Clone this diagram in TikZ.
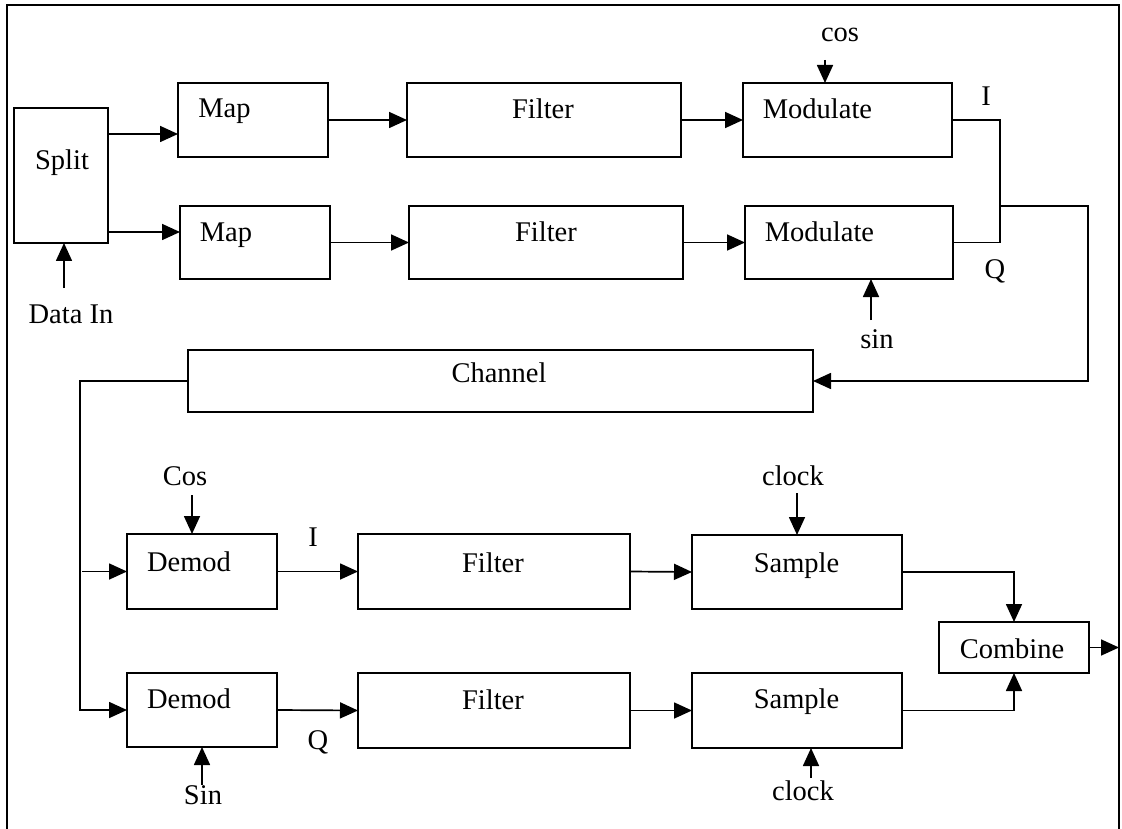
\documentclass[tikz,border=0pt]{standalone}
\usepackage{fontspec}
\setmainfont{Liberation Serif}
\usetikzlibrary{arrows.meta,calc}
\tikzset{
  box/.style={draw,line width=1.7pt,inner sep=0pt,outer sep=0pt,fill=none},
  txt/.style={anchor=base,inner sep=0pt,font=\fontsize{28.5}{33}\selectfont},
  wire/.style={line width=1.7pt},
  arr/.style={line width=1.7pt,-{Triangle[length=18pt,width=16pt]}},
}
\begin{document}
\begin{tikzpicture}[x=1pt,y=-1pt]
\useasboundingbox (0,0) rectangle (1122,829);
% frame
\draw[wire] (7,829) -- (7,5) -- (1119,5) -- (1119,829);
% boxes
\node[box,minimum width=94pt,minimum height=135pt] (split) at (61,175.5) {};
\node[box,minimum width=150pt,minimum height=74pt] (map1) at (253,120) {};
\node[box,minimum width=150pt,minimum height=73pt] (map2) at (255,242.5) {};
\node[box,minimum width=274pt,minimum height=74pt] (filt1) at (544,120) {};
\node[box,minimum width=274pt,minimum height=73pt] (filt2) at (546,242.5) {};
\node[box,minimum width=209pt,minimum height=74pt] (mod1) at (847.5,120) {};
\node[box,minimum width=208pt,minimum height=73pt] (mod2) at (849,242.5) {};
\node[box,minimum width=625pt,minimum height=62pt] (chan) at (500.5,381) {};
\node[box,minimum width=150pt,minimum height=75pt] (dem1) at (202,571.5) {};
\node[box,minimum width=150pt,minimum height=74pt] (dem2) at (202,710) {};
\node[box,minimum width=272pt,minimum height=75pt] (filt3) at (494,571.5) {};
\node[box,minimum width=272pt,minimum height=75pt] (filt4) at (494,710.5) {};
\node[box,minimum width=210pt,minimum height=74pt] (samp1) at (797,572) {};
\node[box,minimum width=210pt,minimum height=75pt] (samp2) at (797,710.5) {};
\node[box,minimum width=150pt,minimum height=51pt] (comb) at (1014,647.5) {};
% texts
\node[txt] (tsplit) at (62,170) {Split};
\node[txt] (tmap1) at (224.5,118) {Map};
\node[txt] (tmap2) at (226,242) {Map};
\node[txt] (tdin) at (71,323) {Data In};
\node[txt] (tf1) at (543,119) {Filter};
\node[txt] (tf2) at (546,242) {Filter};
\node[txt] (tm1) at (817.5,119) {Modulate};
\node[txt] (tm2) at (819.5,242) {Modulate};
\node[txt] (tcos) at (840,42) {cos};
\node[txt] (tI1) at (986,106) {I};
\node[txt] (tQ1) at (995,278) {Q};
\node[txt] (tsin) at (877,348) {sin};
\node[txt] (tchan) at (499,382) {Channel};
\node[txt] (tCos) at (185,485) {Cos};
\node[txt] (td1) at (189,571) {Demod};
\node[txt] (td2) at (189,708) {Demod};
\node[txt] (tI2) at (313,546) {I};
\node[txt] (tQ2) at (318,749) {Q};
\node[txt] (tSin) at (203,804) {Sin};
\node[txt] (tf3) at (493,572) {Filter};
\node[txt] (tf4) at (493,709) {Filter};
\node[txt] (ts1) at (796.5,572) {Sample};
\node[txt] (ts2) at (796.5,708) {Sample};
\node[txt] (tck1) at (793,485) {clock};
\node[txt] (tck2) at (803,800) {clock};
\node[txt] (tcomb) at (1012,658) {Combine};
% free ends
\coordinate (din) at (64,288);
\coordinate (cosin) at (825,60);
\coordinate (sinin) at (871,320);
\coordinate (iq) at (1000,206);
\coordinate (rt) at (1088,206);
\coordinate (cl) at (80,381);
\coordinate (Cosin) at (192,495);
\coordinate (Sinin) at (202,785);
\coordinate (ck1) at (797,493);
\coordinate (ck2) at (811,778);
\coordinate (out) at (1119,647.5);
% connectors
\draw[arr] (split.east |- 0,134) -- (map1.west |- 0,134);
\draw[arr] (split.east |- 0,232) -- (map2.west |- 0,232);
\draw[arr] (din) -- (din |- split.south);
\draw[arr] (map1.east) -- (filt1.west);
\draw[arr] (map2.east) -- (filt2.west);
\draw[arr] (filt1.east) -- (mod1.west);
\draw[arr] (filt2.east) -- (mod2.west);
\draw[arr] (cosin) -- (cosin |- mod1.north);
\draw[arr] (sinin) -- (sinin |- mod2.south);
\draw[wire] (mod1.east) -| (iq |- mod2.east) -- (mod2.east);
\draw[arr] (iq) -- (rt) |- (chan.east);
\draw[arr] (chan.west) -| (cl |- dem2.west) -- (dem2.west);
\draw[arr] ($(cl |- dem1.west)+(2,0)$) -- (dem1.west);
\draw[arr] (Cosin) -- (Cosin |- dem1.north);
\draw[arr] (Sinin) -- (Sinin |- dem2.south);
\draw[arr] (dem1.east) -- (filt3.west);
\draw[arr] (dem2.east) -- (filt4.west);
\draw[arr] (filt3.east) -- (samp1.west);
\draw[arr] (filt4.east) -- (samp2.west);
\draw[arr] (ck1) -- (ck1 |- samp1.north);
\draw[arr] (ck2) -- (ck2 |- samp2.south);
\draw[arr] (samp1.east) -| (comb.north);
\draw[arr] (samp2.east) -| (comb.south);
\draw[arr] (comb.east) -- (out);
\end{tikzpicture}
\end{document}
